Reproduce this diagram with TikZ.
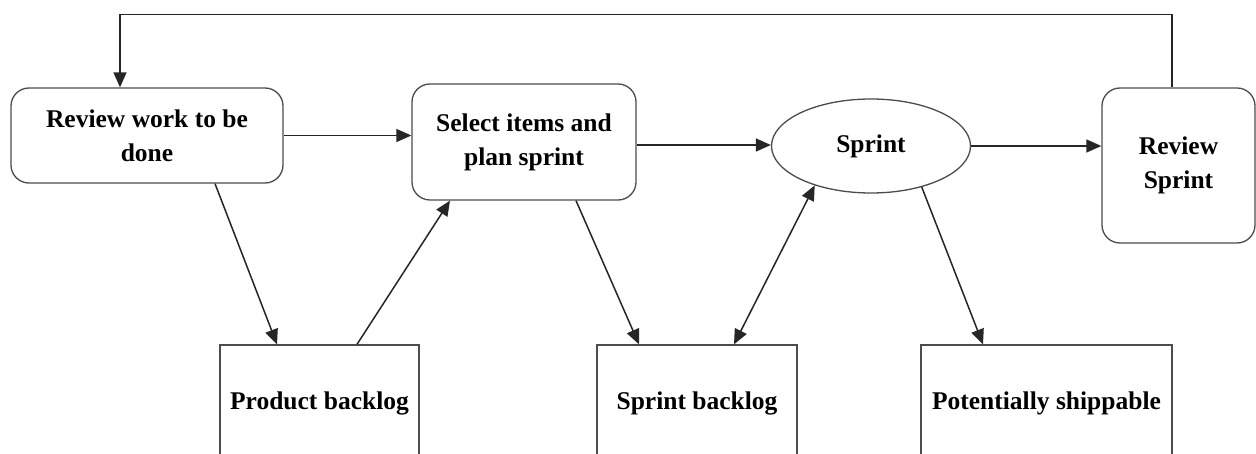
\documentclass[tikz,border=0pt]{standalone}
\usepackage{fontspec}
\setmainfont{Liberation Serif}
\usetikzlibrary{arrows.meta,shapes.geometric,calc}

\tikzset{
  lbl/.style={font=\fontsize{25.5}{34}\selectfont\bfseries, text=black, align=center, inner sep=0pt},
  roundbox/.style={lbl, draw=black!70, line width=1.3pt, rectangle, rounded corners=18pt},
  plainbox/.style={lbl, draw=black!70, line width=1.3pt, rectangle},
  oval/.style={lbl, draw=black!70, line width=1.3pt, ellipse},
  tip/.tip={Triangle[length=15pt,width=13pt]},
  conn/.style={draw=black!85, line width=1.5pt, -tip},
  dconn/.style={draw=black!85, line width=1.5pt, tip-tip}
}

\begin{document}
\begin{tikzpicture}[x=1pt, y=-1pt]
  \useasboundingbox (0,0) rectangle (1256,454);
  \fill[white] (0,0) rectangle (1256,454);
  \clip (0,0) rectangle (1256,454);

  % process steps along the top row
  \node[roundbox, minimum width=272pt, minimum height=95pt] (rw) at (147,135.5) {Review work to be\\done};
  \node[roundbox, minimum width=224pt, minimum height=116pt] (sel) at (524,142) {Select items and\\plan sprint};
  \node[oval, minimum width=199pt, minimum height=94pt] (spr) at (871,146) {Sprint};
  \node[roundbox, minimum width=153pt, minimum height=155pt] (rs) at (1178.5,165.5) {Review\\Sprint};

  % artefacts along the bottom row
  \node[plainbox, minimum width=199pt, minimum height=116pt] (pb) at (319.5,403) {Product backlog};
  \node[plainbox, minimum width=200pt, minimum height=116pt] (sb) at (697,403) {Sprint backlog};
  \node[plainbox, minimum width=251pt, minimum height=116pt] (pc) at (1046.5,403) {Potentially shippable};

  % feedback loop over the top
  \draw[conn] ([xshift=-6.5pt]rs.north) -- ++(0,-73) -| ([xshift=-27pt]rw.north);

  % flow along the top row
  \draw[conn] (rw.east) -- (rw.east -| sel.west);
  \draw[conn] ([yshift=-3pt]sel.east) -- ([yshift=-3pt]sel.east -| spr.west);
  \draw[conn] (spr.east) -- (spr.east -| rs.west);

  % links to the backlogs and the increment
  \draw[conn] ([xshift=68pt]rw.south) -- ([xshift=-42.5pt]pb.north);
  \draw[conn] ([xshift=37.5pt]pb.north) -- ([xshift=-74pt]sel.south);
  \draw[conn] ([xshift=52pt]sel.south) -- ([xshift=-58pt]sb.north);
  \draw[dconn] ([xshift=37pt]sb.north) -- (spr.215);
  \draw[conn] (spr.321) -- ([xshift=-63.5pt]pc.north);
\end{tikzpicture}
\end{document}
